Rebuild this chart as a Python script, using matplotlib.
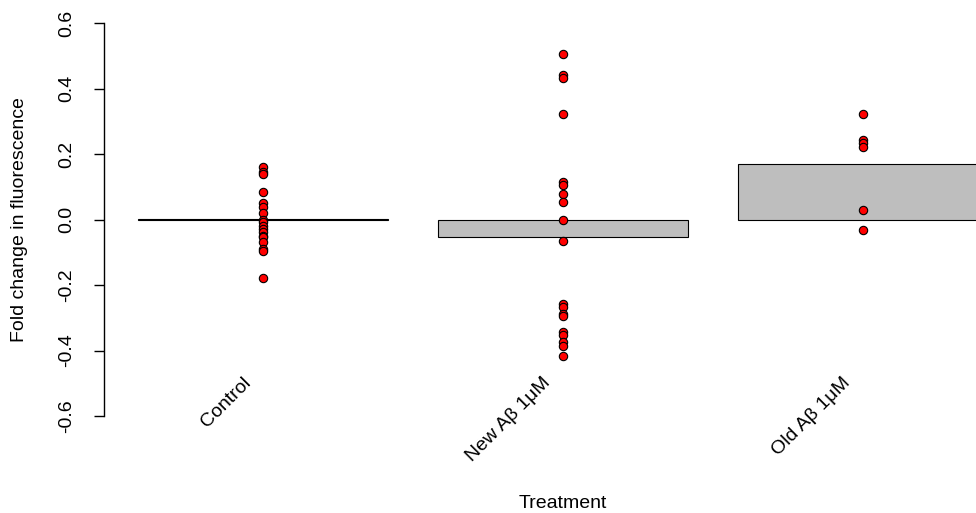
import matplotlib
matplotlib.use("Agg")
import matplotlib.pyplot as plt
import numpy as np

plt.rcParams['font.family'] = ['Liberation Sans', 'DejaVu Sans']
plt.rcParams['axes.unicode_minus'] = False

# fold change per well for each treatment
groups = ["Control", "New A\u03b2 1\u03bcM", "Old A\u03b2 1\u03bcM"]
control = [0.160, 0.145, 0.138, 0.084, 0.051, 0.038, 0.020, 0.0, -0.007, -0.020,
           -0.028, -0.038, -0.050, -0.053, -0.070, -0.089, -0.096, -0.178]
new_ab = [0.507, 0.443, 0.432, 0.324, 0.115, 0.105, 0.077, 0.054, 0.0, -0.066,
          -0.257, -0.267, -0.289, -0.295, -0.343, -0.353, -0.374, -0.387, -0.417]
old_ab = [0.324, 0.242, 0.234, 0.222, 0.028, -0.031]
yticks = [-0.6, -0.4, -0.2, 0.0, 0.2, 0.4, 0.6]

data = [control, new_ab, old_ab]
means = [np.mean(d) for d in data]
# barplot-style positions: width 1, space 0.2
xpos = 0.7 + 1.2 * np.arange(len(groups))

fig = plt.figure(figsize=(9.76, 5.13), dpi=100)
ax = fig.add_axes([104 / 976, 0.1585, 918 / 976, 0.827])

ax.bar(xpos, means, width=1.0, color="#bebebe", edgecolor="black", linewidth=0.8)
for x, d in zip(xpos, data):
    ax.plot(np.full(len(d), x), d, 'o', ms=6, mfc="red", mec="black", mew=0.8,
            linestyle="none")

ax.set_xlim(0.064, 3.736)
ax.set_ylim(-0.648, 0.648)

for s in ["top", "right", "bottom"]:
    ax.spines[s].set_visible(False)
ax.spines["left"].set_bounds(-0.6, 0.6)
ax.spines["left"].set_linewidth(1.0)
ax.set_xticks([])
ax.set_yticks(yticks)
ax.set_yticklabels(["%.1f" % v for v in yticks], rotation=90, va="center")
ax.tick_params(axis="y", length=7, width=1.0, labelsize=14, pad=14)

# slanted group labels
for x, g in zip(xpos, groups):
    ax.text(x - 0.06, -0.49, g, rotation=45, ha="right", va="center",
            rotation_mode="anchor", fontsize=14)

fig.text(20 / 976, 0.572, "Fold change in fluorescence", rotation=90,
         ha="center", va="center", fontsize=14)
fig.text(563 / 976, 10 / 513, "Treatment", ha="center", va="center", fontsize=14)

fig.savefig("out.png", dpi=100)
